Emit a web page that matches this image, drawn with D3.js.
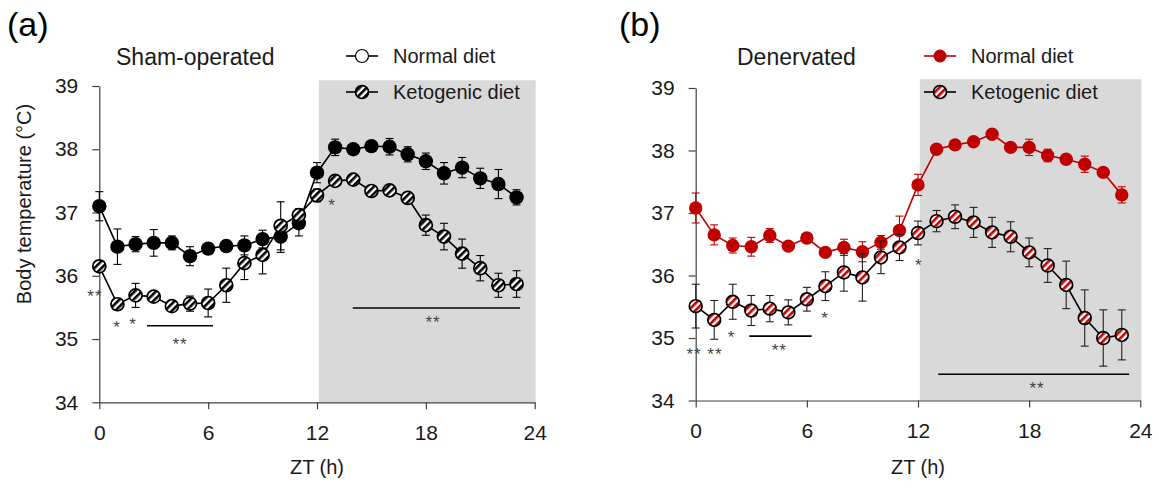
<!DOCTYPE html>
<html>
<head>
<meta charset="utf-8">
<script src="https://cdn.jsdelivr.net/npm/d3@7"></script>
<style>
  body { margin: 0; background: #fff; }
  svg { font-family: "Liberation Sans", Arial, sans-serif; }
</style>
</head>
<body>
<svg id="chart" width="1159" height="489"></svg>
<script>
// ZT hours
var hours = [0,1,2,3,4,5,6,7,8,9,10,11,12,13,14,15,16,17,18,19,20,21,22,23];
var xTicks = [0, 6, 12, 18, 24];
var yTicks = [34, 35, 36, 37, 38, 39];

// (a) sham-operated
var shamNormal    = [37.10,36.46,36.50,36.52,36.52,36.31,36.43,36.47,36.48,36.58,36.62,36.83,37.63,38.03,38.00,38.05,38.04,37.92,37.81,37.62,37.71,37.54,37.45,37.24];
var shamNormalErr = [0.23,0.28,0.12,0.21,0.11,0.15,0.05,0.08,0.15,0.14,0.25,0.20,0.16,0.13,0.05,0.07,0.13,0.12,0.13,0.17,0.16,0.16,0.23,0.12];
var shamKeto      = [36.15,35.55,35.69,35.67,35.52,35.56,35.57,35.85,36.20,36.33,36.79,36.96,37.27,37.50,37.52,37.34,37.35,37.23,36.80,36.62,36.35,36.12,35.85,35.87];
var shamKetoErr   = [0.05,0.05,0.19,0.03,0.05,0.12,0.22,0.27,0.26,0.30,0.38,0.10,0.10,0.05,0.03,0.08,0.04,0.07,0.16,0.21,0.23,0.20,0.19,0.21];

// (b) denervated
var denNormal    = [37.08,36.65,36.48,36.46,36.64,36.47,36.60,36.37,36.45,36.38,36.53,36.72,37.45,38.02,38.09,38.14,38.26,38.05,38.05,37.92,37.86,37.78,37.65,37.29];
var denNormalErr = [0.24,0.16,0.12,0.15,0.11,0.05,0.05,0.05,0.13,0.16,0.11,0.23,0.17,0.03,0.03,0.03,0.03,0.03,0.13,0.10,0.04,0.13,0.04,0.13];
var denKeto      = [35.51,35.29,35.58,35.44,35.47,35.41,35.62,35.83,36.05,35.97,36.29,36.45,36.68,36.87,36.94,36.85,36.69,36.62,36.37,36.16,35.85,35.32,35.00,35.05];
var denKetoErr   = [0.35,0.31,0.28,0.24,0.21,0.20,0.19,0.23,0.30,0.38,0.26,0.21,0.19,0.17,0.19,0.24,0.24,0.24,0.23,0.27,0.38,0.45,0.45,0.40];

// significance marks (hour, temperature)
var shamStars = [{h:-0.24,v:35.74,t:"**"},{h:0.98,v:35.24,t:"*"},{h:1.86,v:35.29,t:"*"},{h:4.45,v:34.98,t:"**"},{h:12.83,v:37.18,t:"*"},{h:18.4,v:35.32,t:"**"}];
var shamBars  = [{h1:2.63,h2:6.27,v:35.21},{h1:13.97,h2:23.19,v:35.49}];
var denStars  = [{h:-0.09,v:34.80,t:"**"},{h:1.04,v:34.80,t:"**"},{h:1.94,v:35.08,t:"*"},{h:4.51,v:34.87,t:"**"},{h:6.98,v:35.38,t:"*"},{h:12.05,v:36.23,t:"*"},{h:18.43,v:34.26,t:"**"}];
var denBars   = [{h1:2.89,h2:6.26,v:35.03},{h1:13.09,h2:23.4,v:34.42}];

var nightStart = 12.1, nightEnd = 24;
var red = "#c00000";

var svg = d3.select("#chart");
var defs = svg.append("defs");

function hatch(id, color) {
    var p = defs.append("pattern")
        .attr("id", id)
        .attr("patternUnits", "userSpaceOnUse")
        .attr("width", 5).attr("height", 5)
        .attr("patternTransform", "rotate(45)");
    p.append("rect").attr("width", 5).attr("height", 5).attr("fill", "#fff");
    p.append("rect").attr("width", 2.6).attr("height", 5).attr("fill", color);
}
hatch("hatchBlack", "#000");
hatch("hatchRed", red);

function drawPanel(p)
{
    var x = d3.scaleLinear().domain([0, 24]).range([p.left, p.right]);
    var y = d3.scaleLinear().domain([34, 39]).range([p.bottom, p.top]);
    var g = svg.append("g");

    // dark phase
    g.append("rect")
        .attr("x", x(nightStart)).attr("y", y(p.shadeTop))
        .attr("width", x(nightEnd) - x(nightStart) + 1)
        .attr("height", y(34) - y(p.shadeTop))
        .attr("fill", "#d9d9d9");

    var xa = g.append("g")
        .attr("transform", "translate(0," + y(34) + ")")
        .call(d3.axisBottom(x).tickValues(xTicks).tickSize(7).tickPadding(16).tickSizeOuter(0));
    var ya = g.append("g")
        .attr("transform", "translate(" + x(0) + ",0)")
        .call(d3.axisLeft(y).tickValues(yTicks).tickFormat(d3.format("d")).tickSize(7).tickPadding(14).tickSizeOuter(0));
    [xa, ya].forEach(function(a){
        a.selectAll("path, line").attr("stroke", "#404040").attr("stroke-width", 1.2);
        a.selectAll("text").attr("font-size", "21px").attr("fill", "#1a1a1a").attr("font-family", null);
    });

    g.append("text")
        .attr("x", (p.left + p.right) / 2).attr("y", 474)
        .attr("text-anchor", "middle").attr("font-size", "20px").attr("fill", "#1a1a1a")
        .text("ZT (h)");

    // sig bars and stars
    p.bars.forEach(function(b){
        g.append("line")
            .attr("x1", x(b.h1)).attr("x2", x(b.h2))
            .attr("y1", y(b.v)).attr("y2", y(b.v))
            .attr("stroke", "#000").attr("stroke-width", 1.6);
    });
    p.stars.forEach(function(s){
        g.append("text")
            .attr("x", x(s.h)).attr("y", y(s.v) + 9.5)
            .attr("text-anchor", "middle").attr("font-size", "17px").attr("fill", "#444")
            .attr("letter-spacing", "1px")
            .text(s.t);
    });

    var line = d3.line().x(function(d, i){ return x(hours[i]); }).y(function(d){ return y(d); });

    p.series.forEach(function(s){
        g.append("path").datum(s.values)
            .attr("d", line).attr("fill", "none")
            .attr("stroke", s.lineColor).attr("stroke-width", 1.6);
        var eb = g.append("g");
        s.values.forEach(function(v, i){
            var cx = x(hours[i]), e = s.err[i];
            eb.append("line").attr("x1", cx).attr("x2", cx).attr("y1", y(v - e)).attr("y2", y(v + e));
            eb.append("line").attr("x1", cx - 4).attr("x2", cx + 4).attr("y1", y(v - e)).attr("y2", y(v - e));
            eb.append("line").attr("x1", cx - 4).attr("x2", cx + 4).attr("y1", y(v + e)).attr("y2", y(v + e));
        });
        eb.selectAll("line").attr("stroke", s.errColor).attr("stroke-width", 1.1);
        g.append("g").selectAll("circle").data(s.values).enter().append("circle")
            .attr("cx", function(d, i){ return x(hours[i]); })
            .attr("cy", function(d){ return y(d); })
            .attr("r", s.r)
            .attr("fill", s.fill)
            .attr("stroke", s.stroke)
            .attr("stroke-width", s.strokeWidth);
    });

    // titles + legend
    svg.append("text").attr("x", p.tagX).attr("y", 36).attr("font-size", "34px").attr("fill", "#000").text(p.tag);
    svg.append("text").attr("x", p.titleX).attr("y", 65).attr("font-size", "23px").attr("fill", "#1a1a1a").text(p.title);
    p.legend.forEach(function(l){
        svg.append("line").attr("x1", p.legX - 16).attr("x2", p.legX + 16)
            .attr("y1", l.y).attr("y2", l.y)
            .attr("stroke", l.lineColor).attr("stroke-width", 1.6);
        svg.append("circle").attr("cx", p.legX).attr("cy", l.y).attr("r", 6.5)
            .attr("fill", l.fill).attr("stroke", l.stroke).attr("stroke-width", l.strokeWidth);
        svg.append("text").attr("x", p.legX + 31).attr("y", l.y + 7)
            .attr("font-size", "20px").attr("fill", "#1a1a1a").text(l.label);
    });

    if (p.yLabel) {
        svg.append("text")
            .attr("transform", "translate(31," + 204 + ") rotate(-90)")
            .attr("text-anchor", "middle").attr("font-size", "20px").attr("fill", "#1a1a1a")
            .text(p.yLabel);
    }
}

drawPanel({
    left: 99.3, right: 534.7, top: 86, bottom: 402.3, shadeTop: 39.09,
    tag: "(a)", tagX: 7, title: "Sham-operated", titleX: 116, legX: 362,
    yLabel: "Body temperature (\u00b0C)",
    stars: shamStars, bars: shamBars,
    series: [
        {values: shamNormal, err: shamNormalErr, lineColor: "#000", errColor: "#000", r: 7.2, fill: "#000", stroke: "#000", strokeWidth: 0},
        {values: shamKeto, err: shamKetoErr, lineColor: "#000", errColor: "#000", r: 6.5, fill: "url(#hatchBlack)", stroke: "#000", strokeWidth: 1.7}
    ],
    legend: [
        {label: "Normal diet", y: 56, lineColor: "#000", fill: "#fff", stroke: "#000", strokeWidth: 1.2},
        {label: "Ketogenic diet", y: 92, lineColor: "#000", fill: "url(#hatchBlack)", stroke: "#000", strokeWidth: 1.7}
    ]
});

drawPanel({
    left: 695.7, right: 1140.3, top: 88, bottom: 400.5, shadeTop: 39.14,
    tag: "(b)", tagX: 619, title: "Denervated", titleX: 737, legX: 940,
    stars: denStars, bars: denBars,
    series: [
        {values: denNormal, err: denNormalErr, lineColor: red, errColor: red, r: 6.7, fill: red, stroke: red, strokeWidth: 0},
        {values: denKeto, err: denKetoErr, lineColor: "#000", errColor: "#222", r: 6.4, fill: "url(#hatchRed)", stroke: "#000", strokeWidth: 1.7}
    ],
    legend: [
        {label: "Normal diet", y: 56, lineColor: red, fill: red, stroke: red, strokeWidth: 0},
        {label: "Ketogenic diet", y: 92, lineColor: "#000", fill: "url(#hatchRed)", stroke: "#000", strokeWidth: 1.7}
    ]
});
</script>
</body>
</html>
